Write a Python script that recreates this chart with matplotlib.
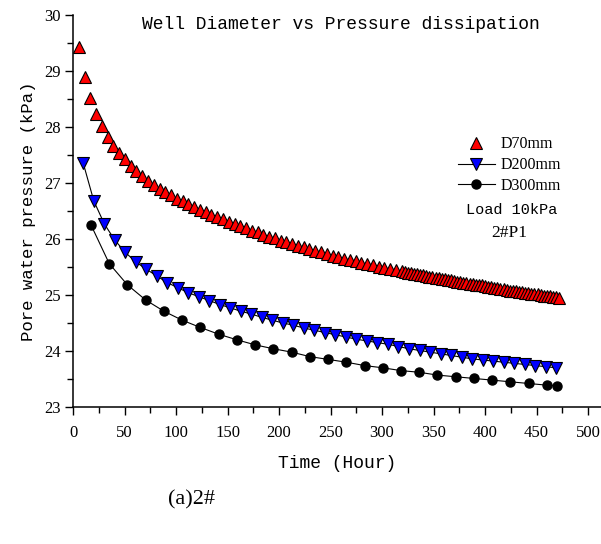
"""Well diameter vs pore pressure dissipation (2#P1, load 10 kPa)."""
import matplotlib
matplotlib.use("Agg")
import matplotlib.pyplot as plt
from matplotlib.ticker import MultipleLocator

# D70mm: regular readings, then a dense run after ~320 h
t_d70 = [5.6, 11.2, 16.8, 22.4, 28, 33.6, 39.2, 44.8, 50.4, 56, 61.6, 67.2, 72.8, 78.4,
         84, 89.6, 95.2, 100.8, 106.4, 112, 117.6, 123.2, 128.8, 134.4, 140, 145.6,
         151.2, 156.8, 162.4, 168, 173.6, 179.2, 184.8, 190.4, 196, 201.6, 207.2,
         212.8, 218.4, 224, 229.6, 235.2, 240.8, 246.4, 252, 257.6, 263.2, 268.8,
         274.4, 280, 285.6, 291.2, 296.8, 302.4, 308, 313.6, 319.2,
         322, 325, 328, 331, 334, 337, 340, 343, 346, 349, 352, 355, 358, 361, 364,
         367, 370, 373, 376, 379, 382, 385, 388, 391, 394, 397, 400, 403, 406, 409,
         412, 415, 418, 421, 424, 427, 430, 433, 436, 439, 442, 445, 448, 451, 454,
         457, 460, 463, 466, 469, 472]
p_d70 = [29.43, 28.90, 28.52, 28.24, 28.01, 27.82, 27.66, 27.54, 27.42, 27.31, 27.21,
         27.12, 27.04, 26.97, 26.90, 26.84, 26.78, 26.72, 26.67, 26.62, 26.57, 26.52,
         26.48, 26.43, 26.39, 26.35, 26.31, 26.27, 26.23, 26.19, 26.15, 26.12, 26.08,
         26.04, 26.01, 25.97, 25.94, 25.91, 25.88, 25.85, 25.82, 25.79, 25.76, 25.73,
         25.70, 25.68, 25.65, 25.62, 25.60, 25.57, 25.55, 25.53, 25.50, 25.48, 25.46,
         25.44, 25.42,
         25.41, 25.40, 25.39, 25.38, 25.37, 25.36, 25.35, 25.34, 25.33, 25.32, 25.31,
         25.30, 25.29, 25.28, 25.27, 25.26, 25.25, 25.24, 25.23, 25.22, 25.21, 25.20,
         25.19, 25.18, 25.17, 25.17, 25.16, 25.15, 25.14, 25.13, 25.12, 25.11, 25.10,
         25.09, 25.08, 25.08, 25.07, 25.06, 25.05, 25.04, 25.03, 25.02, 25.02, 25.01,
         25.00, 24.99, 24.98, 24.98, 24.97, 24.96, 24.95]

t_d200 = [10, 20.2, 30.4, 40.6, 50.8, 61, 71.2, 81.4, 91.6, 101.8, 112, 122.2, 132.4,
          142.6, 152.8, 163, 173.2, 183.4, 193.6, 203.8, 214, 224.2, 234.4, 244.6,
          254.8, 265, 275.2, 285.4, 295.6, 305.8, 316, 326.2, 336.4, 346.6, 356.8,
          367, 377.2, 387.4, 397.6, 407.8, 418, 428.2, 438.4, 448.6, 458.8, 469]
p_d200 = [27.35, 26.68, 26.27, 25.98, 25.76, 25.59, 25.46, 25.34, 25.22, 25.13, 25.04,
          24.97, 24.90, 24.83, 24.77, 24.71, 24.66, 24.60, 24.55, 24.50, 24.46, 24.41,
          24.37, 24.33, 24.29, 24.25, 24.21, 24.18, 24.15, 24.12, 24.08, 24.04, 24.01,
          23.98, 23.95, 23.92, 23.89, 23.86, 23.84, 23.82, 23.80, 23.78, 23.76, 23.74,
          23.72, 23.70]

t_d300 = [17.5, 35.2, 52.9, 70.6, 88.3, 106, 123.7, 141.4, 159.1, 176.8, 194.5, 212.2,
          229.9, 247.6, 265.3, 283, 300.7, 318.4, 336.1, 353.8, 371.5, 389.2, 406.9,
          424.6, 442.3, 460, 469.6]
p_d300 = [26.25, 25.56, 25.18, 24.91, 24.71, 24.55, 24.42, 24.30, 24.20, 24.11, 24.04,
          23.98, 23.90, 23.85, 23.80, 23.74, 23.70, 23.65, 23.62, 23.57, 23.54, 23.51,
          23.48, 23.45, 23.42, 23.39, 23.38]

MONO = "Liberation Mono"
SERIF = "Liberation Serif"

fig = plt.figure(figsize=(6.01, 5.44), dpi=100)
ax = fig.add_axes([73 / 601, 137 / 544, 528 / 601, 392 / 544])

ax.plot(t_d70, p_d70, linestyle="none", marker="^", markersize=8.5,
        markerfacecolor="#ff0000", markeredgecolor="black", markeredgewidth=0.8,
        label="D70mm")
ax.plot(t_d200, p_d200, color="black", linewidth=0.8, marker="v", markersize=8.5,
        markerfacecolor="#0000ff", markeredgecolor="black", markeredgewidth=0.8,
        label="D200mm")
ax.plot(t_d300, p_d300, color="black", linewidth=0.8, marker="o", markersize=6.5,
        markerfacecolor="black", markeredgecolor="black", label="D300mm")

ax.set_xlim(0, 512.6)
ax.set_ylim(23, 30)
ax.xaxis.set_major_locator(MultipleLocator(50))
ax.xaxis.set_minor_locator(MultipleLocator(25))
ax.yaxis.set_major_locator(MultipleLocator(1))
ax.yaxis.set_minor_locator(MultipleLocator(0.5))
ax.tick_params(which="major", direction="out", length=6, width=1)
ax.tick_params(which="minor", direction="out", length=4, width=1)
ax.tick_params(axis="x", which="major", pad=7)
ax.tick_params(axis="y", which="major", pad=3)
for lbl in ax.get_xticklabels() + ax.get_yticklabels():
    lbl.set_fontfamily(SERIF)
    lbl.set_fontsize(12)

for side in ("top", "right"):
    ax.spines[side].set_visible(False)
for side in ("left", "bottom"):
    ax.spines[side].set_linewidth(1.1)

ax.set_xlabel("Time (Hour)", fontfamily=MONO, fontsize=13, labelpad=10)
ax.set_ylabel("Pore water pressure (kPa)", fontfamily=MONO, fontsize=12.5, labelpad=6)
ax.text(0.508, 0.976, "Well Diameter vs Pressure dissipation", transform=ax.transAxes,
        ha="center", va="center", fontfamily=MONO, fontsize=13)

ax.legend(loc="center left", bbox_to_anchor=(0.729, 0.617), frameon=False,
          prop={"family": SERIF, "size": 11.5}, numpoints=1, handlelength=2.3,
          handletextpad=0.35, labelspacing=0.3, borderpad=0, borderaxespad=0)
ax.text(0.831, 0.503, "Load 10kPa", transform=ax.transAxes, ha="center", va="center",
        fontfamily=MONO, fontsize=11)
ax.text(0.826, 0.444, "2#P1", transform=ax.transAxes, ha="center", va="center",
        fontfamily=SERIF, fontsize=12.5)

fig.text(0.319, 0.081, "(a)2#", ha="center", va="center",
         fontfamily=SERIF, fontsize=16)

fig.savefig("out.png", dpi=100)
